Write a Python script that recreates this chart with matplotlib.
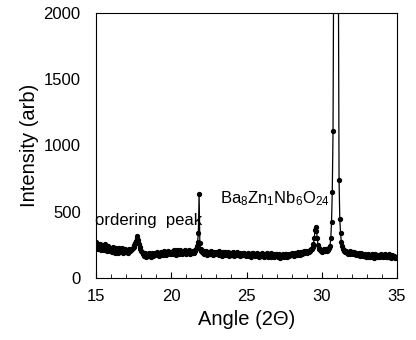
import numpy as np
from matplotlib import pyplot as plt

plt.rcParams['font.family'] = ['Liberation Sans', 'DejaVu Sans']
plt.rcParams['mathtext.fontset'] = 'custom'
plt.rcParams['mathtext.rm'] = 'Liberation Sans'
plt.rcParams['mathtext.it'] = 'Liberation Sans'

# scan grid 15..35 deg, 0.05 step
angle = np.linspace(15, 35, 401)

intensity = [
    268, 235, 250, 218, 242, 254, 222, 212, 248, 236, 208, 232, 256, 220, 204, 230, 244, 212, 200, 226,
    220, 198, 214, 234, 204, 192, 218, 228, 202, 188, 212, 226, 196, 208, 230, 200, 190, 214, 222, 198,
    194, 212, 204, 188, 216, 206, 222, 210, 215, 224, 232, 248, 264, 282, 300, 314, 290, 258, 236, 215,
    205, 194, 186, 178, 168, 186, 176, 162, 182, 174, 164, 188, 170, 156, 178, 186, 168, 176, 190, 172,
    180, 194, 174, 186, 168, 190, 198, 176, 186, 170, 192, 202, 180, 174, 196, 186, 204, 188, 178, 198,
    190, 180, 200, 208, 184, 196, 176, 202, 212, 190, 184, 200, 214, 188, 182, 204, 196, 186, 208, 192,
    184, 202, 190, 210, 196, 182, 204, 188, 198, 206, 190, 212, 200, 215, 240, 274, 337, 634, 262, 215,
    206, 194, 186, 202, 180, 192, 200, 176, 190, 184, 198, 178, 192, 202, 182, 174, 190, 198, 180, 188,
    196, 178, 186, 200, 174, 190, 184, 168, 188, 198, 178, 172, 194, 186, 176, 197, 182, 166, 188, 178,
    186, 174, 194, 182, 166, 190, 176, 184, 198, 172, 180, 192, 164, 182, 174, 190, 170, 186, 176, 164,
    180, 172, 190, 168, 184, 176, 162, 186, 178, 192, 170, 164, 184, 176, 188, 168, 160, 182, 172, 166,
    178, 188, 168, 160, 184, 176, 164, 190, 172, 158, 182, 170, 186, 162, 176, 168, 184, 156, 174, 180,
    166, 178, 158, 182, 168, 154, 176, 164, 180, 170, 156, 178, 166, 184, 160, 172, 180, 164, 174, 182,
    170, 186, 176, 166, 188, 178, 192, 172, 184, 194, 180, 174, 190, 198, 184, 190, 202, 186, 196, 204,
    196, 186, 206, 198, 212, 206, 215, 222, 235, 258, 300, 360, 387, 355, 300, 250, 228, 216, 208, 204,
    214, 198, 208, 218, 202, 212, 220, 204, 214, 224, 228, 245, 300, 420, 651, 1109, 2600, 5200, 7400, 8000,
    6500, 4200, 2500, 740, 443, 337, 274, 240, 222, 210, 200, 194, 206, 188, 198, 184, 196, 202, 182, 192,
    188, 198, 178, 194, 184, 174, 192, 182, 170, 188, 178, 166, 186, 172, 180, 164, 176, 168, 184, 162,
    172, 158, 180, 164, 156, 176, 166, 182, 160, 170, 154, 178, 162, 174, 168, 156, 176, 160, 170, 180,
    164, 176, 158, 170, 180, 162, 174, 156, 168, 178, 160, 170, 154, 166, 176, 158, 168, 152, 162, 158,
    150,
]

fig = plt.figure(figsize=(4.16, 3.40), dpi=100)
ax = fig.add_axes([0.2308, 0.1824, 0.7235, 0.7794])
ax.plot(angle, intensity, color='black', linewidth=0.9, marker='o', markersize=2.8)

ax.set_xlim(15, 35)
ax.set_ylim(0, 2000)
ax.set_xticks([15, 20, 25, 30, 35])
ax.set_xticks(np.arange(15, 35, 1), minor=True)
ax.set_yticks([0, 500, 1000, 1500, 2000])
ax.tick_params(which='both', direction='in', labelsize=12)
ax.tick_params(which='major', length=4, pad=8)
ax.tick_params(axis='y', which='major', length=0, pad=11)
ax.tick_params(which='minor', length=3)

ax.set_xlabel('Angle (2\u0398)', fontsize=14.5, labelpad=4)
ax.set_ylabel('Intensity (arb)', fontsize=14.5, labelpad=3)

ax.text(14.95, 400, 'ordering  peak', fontsize=12, ha='left', va='baseline')
ax.text(23.25, 560, r'Ba$_8$Zn$_1$Nb$_6$O$_{24}$', fontsize=12, ha='left', va='baseline')

fig.savefig('out.png', dpi=100)
